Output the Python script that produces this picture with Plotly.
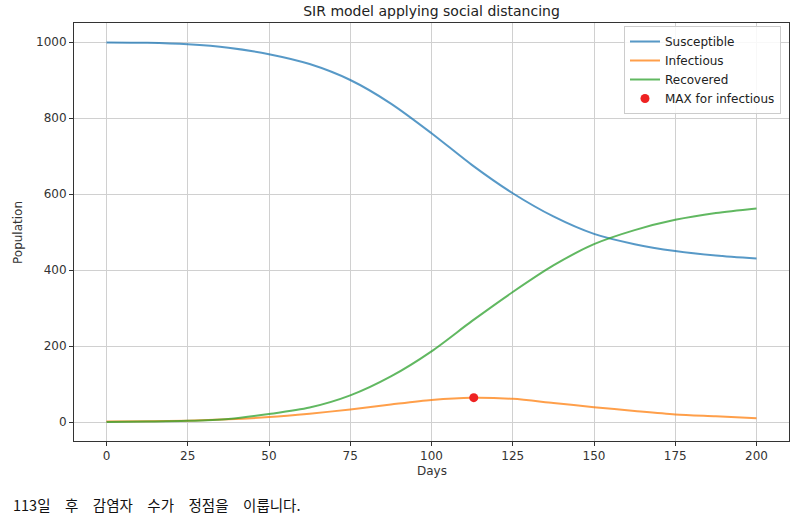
import plotly.graph_objects as go

days = [0, 12.5, 25, 37.5, 50, 62.5, 75, 87.5, 100, 112.5, 125, 137.5, 150, 162.5, 175, 187.5, 200]
susceptible = [999, 998, 994, 985, 968, 942, 900, 838, 760, 676, 602, 541, 495, 468, 450, 438, 430]
infectious = [1, 2, 3.5, 7, 13, 22, 33, 46, 58, 64, 61, 50, 39, 29, 20, 15, 10]
recovered = [0, 1, 3, 8, 21, 38, 70, 120, 186, 266, 342, 412, 468, 505, 532, 550, 562]
max_day = [113]
max_value = [64]
x_ticks = [0, 25, 50, 75, 100, 125, 150, 175, 200]
y_ticks = [0, 200, 400, 600, 800, 1000]
caption_words = ["113일", "후", "감염자", "수가", "정점을", "이룹니다."]

FONT = "DejaVu Sans"
L, R, T, B = 74, 11, 23, 75
W, H = 800, 516
pw, ph = W - L - R, H - T - B


def px_x(px):
    return (px - L) / pw


def px_y(py):
    return (H - B - py) / ph


fig = go.Figure()
fig.add_trace(go.Scatter(x=days, y=susceptible, mode="lines", name="Susceptible",
                         line=dict(color="rgba(31,119,180,0.75)", width=2, shape="spline", smoothing=0.8)))
fig.add_trace(go.Scatter(x=days, y=infectious, mode="lines", name="Infectious",
                         line=dict(color="rgba(255,127,14,0.75)", width=2, shape="spline", smoothing=0.8)))
fig.add_trace(go.Scatter(x=days, y=recovered, mode="lines", name="Recovered",
                         line=dict(color="rgba(44,160,44,0.75)", width=2, shape="spline", smoothing=0.8)))
fig.add_trace(go.Scatter(x=max_day, y=max_value, mode="markers", name="MAX for infectious",
                         marker=dict(color="#ee2222", size=9)))

axis_common = dict(showline=True, linecolor="#333333", linewidth=1, mirror=True,
                   ticks="outside", ticklen=4, tickcolor="#333333",
                   showgrid=True, gridcolor="#d0d0d0", gridwidth=1, zeroline=False,
                   tickfont=dict(family=FONT, size=12, color="#333333"))

fig.update_xaxes(range=[-10, 210], tickvals=x_ticks, **axis_common)
fig.update_yaxes(range=[-50, 1050], tickvals=y_ticks, **axis_common)

fig.update_layout(
    width=W, height=H,
    margin=dict(l=L, r=R, t=T, b=B),
    paper_bgcolor="white", plot_bgcolor="white",
    font=dict(family=FONT, size=12, color="#333333"),
    title=dict(text="SIR model applying social distancing", x=0.5, xref="paper",
               y=1 - 11 / H, yref="container", yanchor="middle", xanchor="center",
               font=dict(family=FONT, size=14, color="#222222")),
    showlegend=True,
    legend=dict(x=px_x(781), y=px_y(26), xanchor="right", yanchor="top",
                bgcolor="rgba(255,255,255,0.85)", bordercolor="#cccccc", borderwidth=1,
                font=dict(family=FONT, size=12, color="#222222"),
                itemwidth=30, tracegroupgap=0),
    annotations=[
        dict(text="Days", xref="paper", yref="paper", x=0.5, y=px_y(471),
             xanchor="center", yanchor="middle", showarrow=False,
             font=dict(family=FONT, size=12, color="#333333")),
        dict(text="Population", textangle=-90, xref="paper", yref="paper",
             x=px_x(18), y=0.5, xanchor="center", yanchor="middle", showarrow=False,
             font=dict(family=FONT, size=12, color="#333333")),
        dict(text="\u3000".join(caption_words), xref="paper", yref="paper",
             x=px_x(11), y=px_y(504), xanchor="left", yanchor="middle", showarrow=False,
             font=dict(family="Noto Sans CJK KR", size=14.5, color="#111111")),
    ],
)

fig.write_html("out.html")
